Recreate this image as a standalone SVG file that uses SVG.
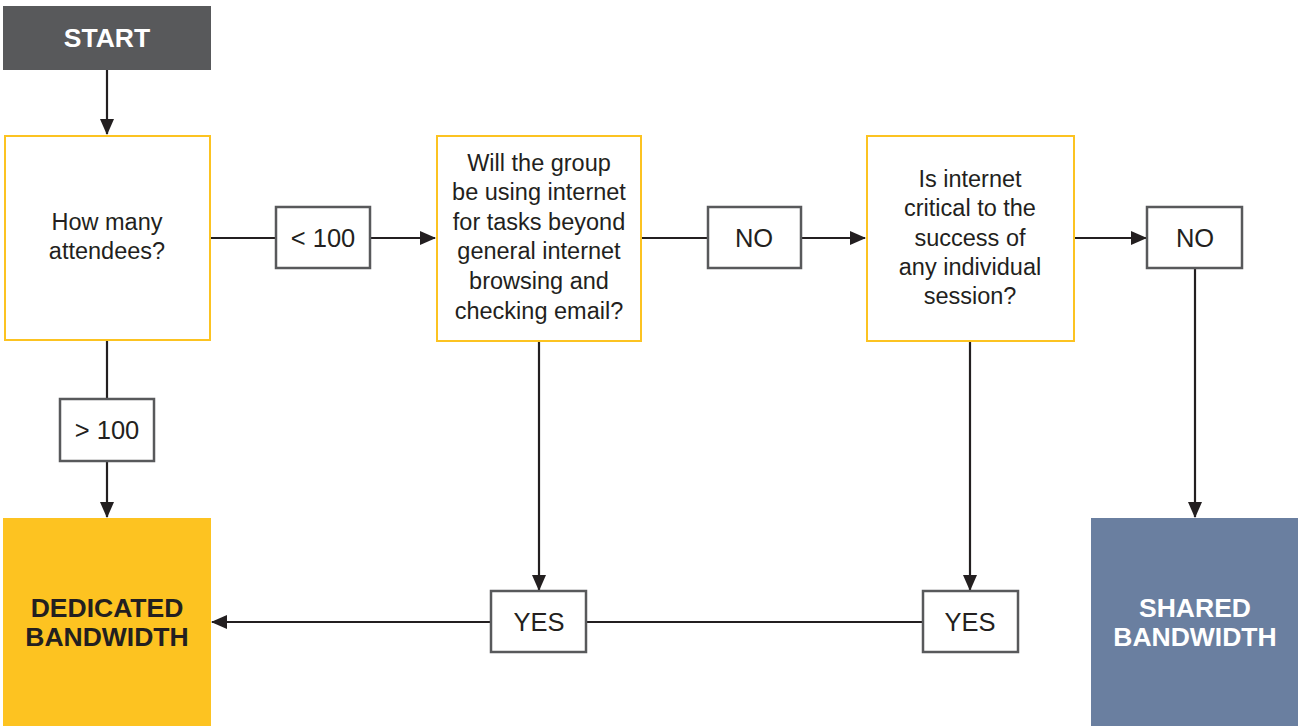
<svg xmlns="http://www.w3.org/2000/svg" width="1298" height="726" viewBox="0 0 1298 726">
<defs>
<marker id="arr" markerUnits="userSpaceOnUse" markerWidth="16" markerHeight="14" refX="15" refY="7" orient="auto">
<path d="M0,0 L16,7 L0,14 Z" fill="#231f20"/>
</marker>
<style>
.q{fill:#fff;stroke:#fcc321;stroke-width:2}
.lb{fill:#fff;stroke:#58595b;stroke-width:2.5}
.t{font-family:"Liberation Sans",Arial,sans-serif;font-size:23.5px;fill:#231f20;text-anchor:middle}
.lt{font-family:"Liberation Sans",Arial,sans-serif;font-size:25.5px;fill:#231f20;text-anchor:middle}
.b{font-family:"Liberation Sans",Arial,sans-serif;font-size:26.5px;font-weight:bold;text-anchor:middle}
.c{fill:none;stroke:#231f20;stroke-width:2.2}
</style>
</defs>
<g id="connectors">
<line class="c" x1="107" y1="70" x2="107" y2="134" marker-end="url(#arr)"/>
<line class="c" x1="210" y1="238" x2="276" y2="238"/>
<line class="c" x1="370" y1="238" x2="435" y2="238" marker-end="url(#arr)"/>
<line class="c" x1="641" y1="238" x2="708" y2="238"/>
<line class="c" x1="801" y1="238" x2="865" y2="238" marker-end="url(#arr)"/>
<line class="c" x1="1074" y1="238" x2="1146" y2="238" marker-end="url(#arr)"/>
<line class="c" x1="1195" y1="268" x2="1195" y2="517" marker-end="url(#arr)"/>
<line class="c" x1="107" y1="340" x2="107" y2="399"/>
<line class="c" x1="107" y1="461" x2="107" y2="517" marker-end="url(#arr)"/>
<line class="c" x1="539" y1="341" x2="539" y2="590" marker-end="url(#arr)"/>
<line class="c" x1="970" y1="341" x2="970" y2="590" marker-end="url(#arr)"/>
<line class="c" x1="923" y1="622" x2="586" y2="622"/>
<line class="c" x1="491" y1="622" x2="212" y2="622" marker-end="url(#arr)"/>
</g>
<g id="start">
<rect x="3" y="6" width="208" height="64" fill="#58595b"/>
<text class="b" x="107" y="47" fill="#fff" font-size="27">START</text>
</g>
<g id="q1">
<rect class="q" x="5" y="136" width="205" height="204"/>
<text class="t" x="107" y="230">How many</text>
<text class="t" x="107" y="259">attendees?</text>
</g>
<g id="lt100">
<rect class="lb" x="276" y="207" width="94" height="61"/>
<text class="lt" x="323" y="247">&lt; 100</text>
</g>
<g id="q2">
<rect class="q" x="437" y="136" width="204" height="205"/>
<text class="t" x="539" y="171">Will the group</text>
<text class="t" x="539" y="200">be using internet</text>
<text class="t" x="539" y="230">for tasks beyond</text>
<text class="t" x="539" y="259">general internet</text>
<text class="t" x="539" y="289">browsing and</text>
<text class="t" x="539" y="319">checking email?</text>
</g>
<g id="no1">
<rect class="lb" x="708" y="207" width="93" height="61"/>
<text class="lt" x="754" y="247">NO</text>
</g>
<g id="q3">
<rect class="q" x="867" y="136" width="207" height="205"/>
<text class="t" x="970" y="187">Is internet</text>
<text class="t" x="970" y="216">critical to the</text>
<text class="t" x="970" y="246">success of</text>
<text class="t" x="970" y="275">any individual</text>
<text class="t" x="970" y="304">session?</text>
</g>
<g id="no2">
<rect class="lb" x="1147" y="207" width="95" height="61"/>
<text class="lt" x="1195" y="247">NO</text>
</g>
<g id="gt100">
<rect class="lb" x="60" y="399" width="94" height="62"/>
<text class="lt" x="107" y="439">&gt; 100</text>
</g>
<g id="yes1">
<rect class="lb" x="491" y="591" width="95" height="61"/>
<text class="lt" x="539" y="631">YES</text>
</g>
<g id="yes2">
<rect class="lb" x="923" y="591" width="95" height="61"/>
<text class="lt" x="970" y="631">YES</text>
</g>
<g id="dedicated">
<rect x="3" y="518" width="208" height="208" fill="#fdc321"/>
<text class="b" x="107" y="617" fill="#231f20">DEDICATED</text>
<text class="b" x="107" y="646" fill="#231f20">BANDWIDTH</text>
</g>
<g id="shared">
<rect x="1091" y="518" width="207" height="208" fill="#6a7fa0"/>
<text class="b" x="1195" y="617" fill="#fff">SHARED</text>
<text class="b" x="1195" y="646" fill="#fff">BANDWIDTH</text>
</g>
</svg>
